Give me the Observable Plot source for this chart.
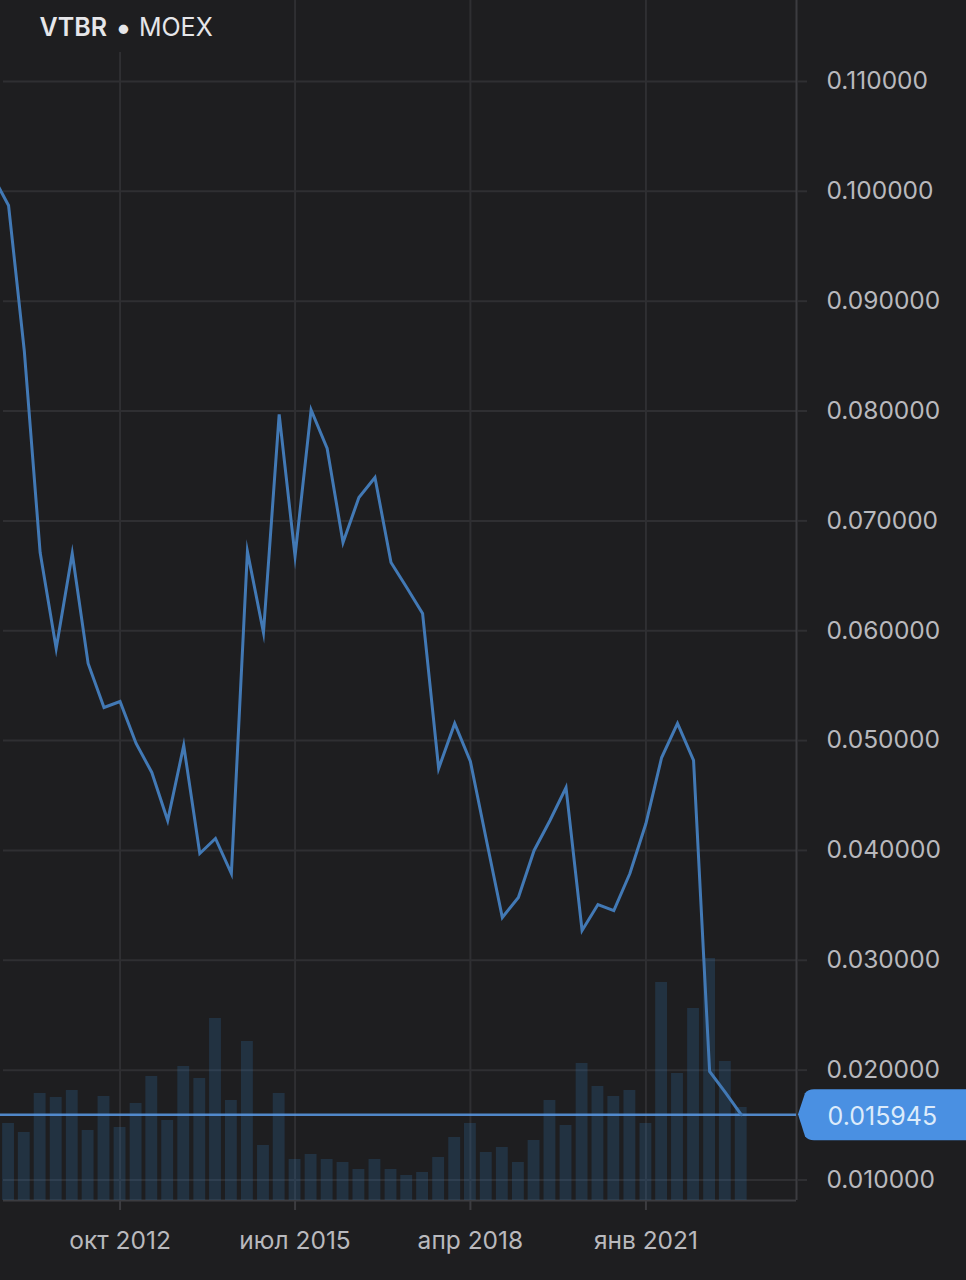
<!DOCTYPE html>
<html lang="ru">
<head>
<meta charset="utf-8">
<script src="https://cdn.jsdelivr.net/npm/d3@7"></script>
<script src="https://cdn.jsdelivr.net/npm/@observablehq/plot@0.6"></script>
<style>
html,body{margin:0;padding:0;background:#1e1e20;overflow:hidden}
#wrap{position:relative;width:966px;height:1280px}
#title{position:absolute;left:0;top:0;height:52px;width:232px;background:#1e1e20;
  font-family:Inter,sans-serif;font-size:25px;line-height:54px;color:#e6e6e9;white-space:nowrap;padding-left:39.5px;box-sizing:border-box}
#title b{font-weight:600}
#title i{font-style:normal;font-size:30px;line-height:30px;vertical-align:-2px;margin:0 0 0 1px}
</style>
</head>
<body>
<div id="wrap"><div id="title"><b>VTBR</b> <i>•</i> MOEX</div></div>
<script>
// Quarterly series: first quarter is Oct 2010
const firstYear = 2010, firstMonth = 9;
const prices = [
  0.10144,0.09871,0.08551,0.06712,0.05838,0.06703,0.05702,0.05301,
  0.05356,0.04974,0.04710,0.04273,0.04955,0.03972,0.04109,0.03790,
  0.06721,0.05984,0.07970,0.06680,0.08010,0.07659,0.06803,0.07213,
  0.07395,0.06621,0.06394,0.06157,0.04746,0.05156,0.04810,0.04100,
  0.03390,0.03572,0.04000,0.04273,0.04573,0.03271,0.03508,0.03453,
  0.03790,0.04245,0.04846,0.05156,0.04819,0.01988,0.01797,0.015945
];
// Volume bar heights (starts one quarter after the prices)
const volumes = [
  77,68,107,103,110,70,104,
  73,97,124,80,134,122,182,100,159,55,107,41,46,41,38,31,41,
  31,25,28,43,63,77,48,53,38,60,100,75,137,114,104,110,
  77,218,127,192,242,139,93
];
const yTicks = [0.01,0.02,0.03,0.04,0.05,0.06,0.07,0.08,0.09,0.10,0.11];
const xTicks = [new Date(Date.UTC(2012,9,1)),new Date(Date.UTC(2015,6,1)),new Date(Date.UTC(2018,3,1)),new Date(Date.UTC(2021,0,1))];
const xLabels = ["окт 2012","июл 2015","апр 2018","янв 2021"];
const lastPrice = 0.015945;

const BG="#1e1e20", GRID="#2f2f32", FRAME="#3c3c40", TEXT="#b9b9bd", LINE="#4279b5", BLUE="#4a90e2";
const DAY = 86400000;
const quarter = i => new Date(Date.UTC(firstYear, firstMonth + 3*i, 1));
const xDomain = [new Date(Date.UTC(2010,11,3)), new Date(Date.UTC(2023,4,14))];
const yDomain = [0.008134, 0.11737];
const volUnit = 0.00009103;

const priceData = prices.map((p,i)=>({date:quarter(i),price:p}));
const volData = volumes.map((v,i)=>({date:quarter(i+1),vol:v}));

const tag = (index, scales, values, dim) => {
  const x0 = dim.width - dim.marginRight + 2, y = scales.y(lastPrice), r = dim.width + 2;
  return d3.create("svg:path")
    .attr("d",`M${x0},${y} L${x0+7},${y-21} Q${x0+10},${y-25} ${x0+16},${y-25} L${r},${y-25} L${r},${y+26} L${x0+16},${y+26} Q${x0+10},${y+26} ${x0+7},${y+22} Z`)
    .attr("fill",BLUE).node();
};

const chart = Plot.plot({
  width:966, height:1280,
  marginLeft:3, marginRight:170, marginTop:0, marginBottom:80,
  style:{background:BG,fontFamily:"Inter, sans-serif",fontSize:"24.5px",color:TEXT},
  x:{type:"utc",domain:xDomain},
  y:{type:"linear",domain:yDomain},
  marks:[
    Plot.gridY(yTicks,{stroke:GRID,strokeOpacity:1,strokeWidth:2}),
    Plot.gridX(xTicks,{stroke:GRID,strokeOpacity:1,strokeWidth:2}),
    Plot.ruleX([xDomain[1]],{stroke:FRAME,strokeWidth:2}),
    Plot.ruleY([yDomain[0]],{stroke:FRAME,strokeWidth:2}),
    Plot.axisY({anchor:"right",ticks:yTicks,tickSize:10,tickPadding:20,label:null,stroke:GRID,strokeWidth:2,fill:TEXT,fontVariant:"normal",
      tickFormat:d=>d.toFixed(6)}),
    Plot.axisX({anchor:"bottom",ticks:xTicks,tickSize:10,tickPadding:21,label:null,stroke:FRAME,strokeWidth:2,fill:TEXT,fontVariant:"normal",
      tickFormat:d=>xLabels[xTicks.findIndex(t=>+t===+d)]}),
    Plot.rect(volData,{
      x1:d=>new Date(+d.date-34*DAY), x2:d=>new Date(+d.date+34*DAY),
      y1:yDomain[0], y2:d=>yDomain[0]+d.vol*volUnit,
      fill:"#3282c8", fillOpacity:0.2
    }),
    Plot.ruleY([lastPrice],{x1:priceData[0].date,x2:xDomain[1],stroke:"#5a9ae6",strokeWidth:2.4,strokeOpacity:.85}),
    Plot.line(priceData,{x:"date",y:"price",stroke:LINE,strokeWidth:3,strokeLinejoin:"miter",strokeMiterlimit:10,curve:"linear"}),
    tag,
    Plot.text([lastPrice.toFixed(6)],{x:xDomain[1],y:lastPrice,dx:31,dy:2,text:d=>d,textAnchor:"start",fill:"#dcebfb",fontSize:25,fontFamily:"Inter, sans-serif"})
  ]
});
document.getElementById("wrap").prepend(chart);
</script>
</body>
</html>
